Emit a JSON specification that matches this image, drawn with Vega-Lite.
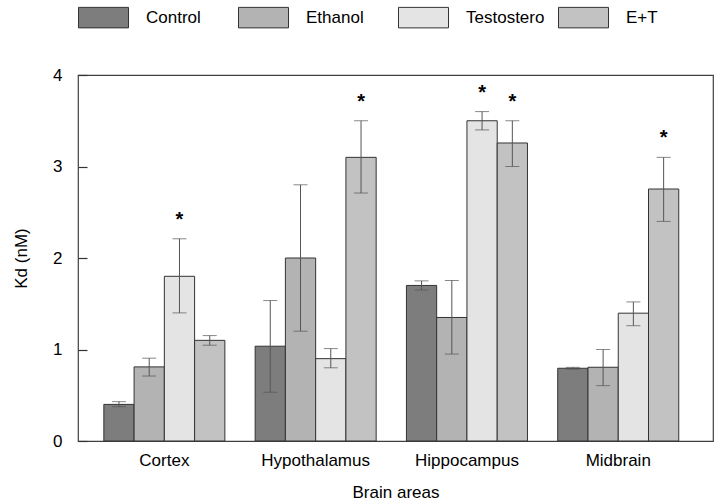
{
  "$schema": "https://vega.github.io/schema/vega-lite/v6.json",
  "width": 635,
  "height": 366,
  "autosize": {"type": "none"},
  "padding": {"left": 78, "top": 75, "right": 7, "bottom": 62},
  "background": "white",
  "config": {
    "font": "Liberation Sans",
    "view": {"stroke": "#404040", "strokeWidth": 1.2},
    "axis": {"domain": false, "grid": false, "labelColor": "#000", "titleColor": "#000", "labelFontSize": 17, "titleFontSize": 17, "titleFontWeight": "normal"},
    "axisY": {"ticks": true, "tickSize": 9, "tickColor": "#333", "tickWidth": 1.2, "offset": -9},
    "legend": {"labelFontSize": 17, "labelColor": "#000"}
  },
  "data": {
    "values": [
      {"area": "Cortex", "treatment": "Control", "value": 0.40, "lo": 0.375, "hi": 0.43, "sig": false},
      {"area": "Cortex", "treatment": "Ethanol", "value": 0.81, "lo": 0.71, "hi": 0.905, "sig": false},
      {"area": "Cortex", "treatment": "Testostero", "value": 1.80, "lo": 1.40, "hi": 2.21, "sig": true},
      {"area": "Cortex", "treatment": "E+T", "value": 1.10, "lo": 1.047, "hi": 1.152, "sig": false},
      {"area": "Hypothalamus", "treatment": "Control", "value": 1.036, "lo": 0.533, "hi": 1.535, "sig": false},
      {"area": "Hypothalamus", "treatment": "Ethanol", "value": 2.0, "lo": 1.2, "hi": 2.8, "sig": false},
      {"area": "Hypothalamus", "treatment": "Testostero", "value": 0.9, "lo": 0.8, "hi": 1.01, "sig": false},
      {"area": "Hypothalamus", "treatment": "E+T", "value": 3.10, "lo": 2.71, "hi": 3.5, "sig": true},
      {"area": "Hippocampus", "treatment": "Control", "value": 1.70, "lo": 1.65, "hi": 1.75, "sig": false},
      {"area": "Hippocampus", "treatment": "Ethanol", "value": 1.35, "lo": 0.95, "hi": 1.754, "sig": false},
      {"area": "Hippocampus", "treatment": "Testostero", "value": 3.50, "lo": 3.40, "hi": 3.60, "sig": true},
      {"area": "Hippocampus", "treatment": "E+T", "value": 3.257, "lo": 3.0, "hi": 3.5, "sig": true},
      {"area": "Midbrain", "treatment": "Control", "value": 0.795, "lo": 0.785, "hi": 0.805, "sig": false},
      {"area": "Midbrain", "treatment": "Ethanol", "value": 0.806, "lo": 0.605, "hi": 1.0, "sig": false},
      {"area": "Midbrain", "treatment": "Testostero", "value": 1.397, "lo": 1.26, "hi": 1.52, "sig": false},
      {"area": "Midbrain", "treatment": "E+T", "value": 2.754, "lo": 2.40, "hi": 3.10, "sig": true}
    ]
  },
  "encoding": {
    "x": {
      "field": "area", "type": "nominal",
      "sort": ["Cortex", "Hypothalamus", "Hippocampus", "Midbrain"],
      "scale": {"paddingInner": 0.2, "paddingOuter": 0.1985, "align": 0.43},
      "axis": {"title": "Brain areas", "labelAngle": 0, "ticks": false, "labelPadding": 11, "titlePadding": 16}
    },
    "xOffset": {
      "field": "treatment", "type": "nominal",
      "sort": ["Control", "Ethanol", "Testostero", "E+T"],
      "scale": {"paddingInner": 0, "paddingOuter": 0}
    }
  },
  "layer": [
    {
      "mark": {"type": "bar", "stroke": "#333", "strokeWidth": 1},
      "encoding": {
        "y": {
          "field": "value", "type": "quantitative",
          "scale": {"domain": [0, 4], "nice": false},
          "axis": {"title": "Kd (nM)", "values": [0, 1, 2, 3, 4], "format": "d", "zindex": 1, "labelPadding": 16, "titlePadding": 22}
        },
        "fill": {
          "field": "treatment", "type": "nominal",
          "sort": ["Control", "Ethanol", "Testostero", "E+T"],
          "scale": {"range": ["#7d7d7d", "#b3b3b3", "#e4e4e4", "#c2c2c2"]},
          "legend": {
            "title": null, "orient": "none", "direction": "horizontal", "columns": 4,
            "legendX": 0, "legendY": -83, "padding": 0,
            "symbolType": "M-1,-0.41H1V0.41H-1Z", "symbolSize": 2500,
            "symbolStrokeColor": "#333", "symbolStrokeWidth": 1,
            "labelOffset": 17, "columnPadding": 11, "gridAlign": "all"
          }
        }
      }
    },
    {
      "mark": {"type": "rule", "color": "#555", "strokeWidth": 1},
      "encoding": {
        "y": {"field": "lo", "type": "quantitative"},
        "y2": {"field": "hi"}
      }
    },
    {
      "mark": {"type": "tick", "color": "#555", "size": 14, "thickness": 1},
      "encoding": {"y": {"field": "hi", "type": "quantitative"}}
    },
    {
      "mark": {"type": "tick", "color": "#555", "size": 14, "thickness": 1},
      "encoding": {"y": {"field": "lo", "type": "quantitative"}}
    },
    {
      "transform": [{"filter": "datum.sig"}],
      "mark": {"type": "text", "text": "*", "fontSize": 20, "fontWeight": "bold", "baseline": "alphabetic", "dy": -13, "color": "#000"},
      "encoding": {"y": {"field": "hi", "type": "quantitative"}}
    }
  ]
}
